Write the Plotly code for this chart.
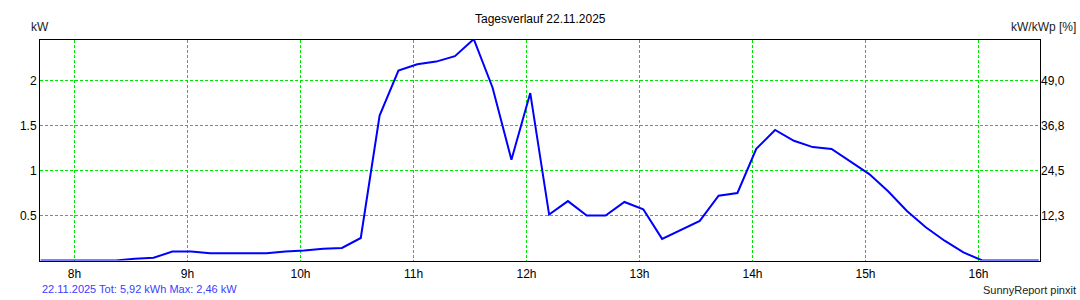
import plotly.graph_objects as go

# ---- data ----
times = ["07:42", "07:52", "08:02", "08:12", "08:22", "08:32", "08:42", "08:52",
         "09:02", "09:12", "09:22", "09:32", "09:42", "09:52", "10:02", "10:12",
         "10:22", "10:32", "10:42", "10:52", "11:02", "11:12", "11:22", "11:32",
         "11:42", "11:52", "12:02", "12:12", "12:22", "12:32", "12:42", "12:52",
         "13:02", "13:12", "13:22", "13:32", "13:42", "13:52", "14:02", "14:12",
         "14:22", "14:32", "14:42", "14:52", "15:02", "15:12", "15:22", "15:32",
         "15:42", "15:52", "16:02", "16:12", "16:22", "16:32"]
power_kw = [0.00, 0.00, 0.00, 0.00, 0.00, 0.02, 0.03, 0.10,
            0.10, 0.08, 0.08, 0.08, 0.08, 0.10, 0.11, 0.13,
            0.14, 0.25, 1.61, 2.11, 2.18, 2.21, 2.27, 2.46,
            1.92, 1.12, 1.86, 0.51, 0.66, 0.50, 0.50, 0.65,
            0.57, 0.24, 0.34, 0.44, 0.72, 0.75, 1.24, 1.45,
            1.33, 1.26, 1.24, 1.10, 0.96, 0.77, 0.55, 0.37,
            0.22, 0.09, 0.00, 0.00, 0.00, 0.00]
hour_ticks = [8, 9, 10, 11, 12, 13, 14, 15, 16]
hour_labels = ["8h", "9h", "10h", "11h", "12h", "13h", "14h", "15h", "16h"]
kw_ticks = [0.5, 1, 1.5, 2]
kw_labels = ["0.5", "1", "1.5", "2"]
pct_labels = ["12,3", "24,5", "36,8", "49,0"]

title_text = "Tagesverlauf 22.11.2025"
footer_left = "22.11.2025 Tot: 5,92 kWh Max: 2,46 kW"
footer_right = "SunnyReport pinxit"

hours = [int(t[:2]) + int(t[3:]) / 60 for t in times]

FONT = "Liberation Sans, Arial, sans-serif"
GRID = "#00e600"
YMAX = 2.45
PLOT_H = 221          # plot area 40..261 px
PLOT_W = 1000
DOM0 = 0.5 / PLOT_H   # put y=0 on a half pixel so grid lines are crisp
PX_PER_H = 113        # whole pixels per hour -> crisp vertical grid lines
X0 = 8 - 34.5 / PX_PER_H
X1 = X0 + PLOT_W / PX_PER_H

fig = go.Figure()
fig.add_trace(go.Scatter(x=hours, y=power_kw, mode="lines",
                         line=dict(color="#0000ff", width=2),
                         hoverinfo="skip", showlegend=False))
# helper trace so the right-hand axis is drawn
fig.add_trace(go.Scatter(x=hours, y=power_kw, mode="lines", yaxis="y2",
                         line=dict(color="rgba(0,0,0,0)", width=0),
                         hoverinfo="skip", showlegend=False))

fig.update_layout(
    width=1080, height=300,
    margin=dict(l=40, r=40, t=40, b=39),
    paper_bgcolor="white", plot_bgcolor="white",
    font=dict(family=FONT, size=12, color="black"),
    showlegend=False,
    xaxis=dict(range=[X0, X1], tickvals=hour_ticks, ticktext=hour_labels,
               showgrid=True, gridcolor=GRID, gridwidth=1, griddash="3px,2px",
               showline=True, linecolor="black", linewidth=1, mirror=True,
               ticks="", ticklabelstandoff=2, zeroline=False, fixedrange=True),
    yaxis=dict(range=[0, YMAX], domain=[DOM0, 1], tickvals=kw_ticks, ticktext=kw_labels,
               showgrid=True, gridcolor=GRID, gridwidth=1, griddash="3px,2px",
               showline=True, linecolor="black", linewidth=1, mirror=True,
               ticks="", zeroline=False, fixedrange=True),
    yaxis2=dict(range=[0, YMAX], domain=[DOM0, 1], tickvals=kw_ticks, ticktext=pct_labels,
                overlaying="y", side="right", showgrid=False, zeroline=False,
                showline=False, ticks="", fixedrange=True),
)

def py(px):
    return (261 - px) / PLOT_H

ann = [
    dict(text=title_text, x=0.5, y=py(19), xanchor="center", yanchor="middle"),
    dict(text="kW", x=0.0, y=py(27), xanchor="center", yanchor="middle",
         font=dict(color="#222222")),
    dict(text="kW/kWp [%]", x=(1078 - 40) / PLOT_W, y=py(27),
         xanchor="right", yanchor="middle", font=dict(color="#222222")),
    dict(text=footer_left, x=0.0, y=py(289), xanchor="left", yanchor="middle",
         font=dict(size=11, color="#3c3cff")),
    dict(text=footer_right, x=(1078 - 40) / PLOT_W, y=py(290),
         xanchor="right", yanchor="middle", font=dict(size=11, color="#222222")),
]
for a in ann:
    a.update(xref="paper", yref="paper", showarrow=False)
    a.setdefault("font", dict())
    a["font"].setdefault("family", FONT)
    a["font"].setdefault("size", 12)
fig.update_layout(annotations=ann)

fig.write_html("out.html")
